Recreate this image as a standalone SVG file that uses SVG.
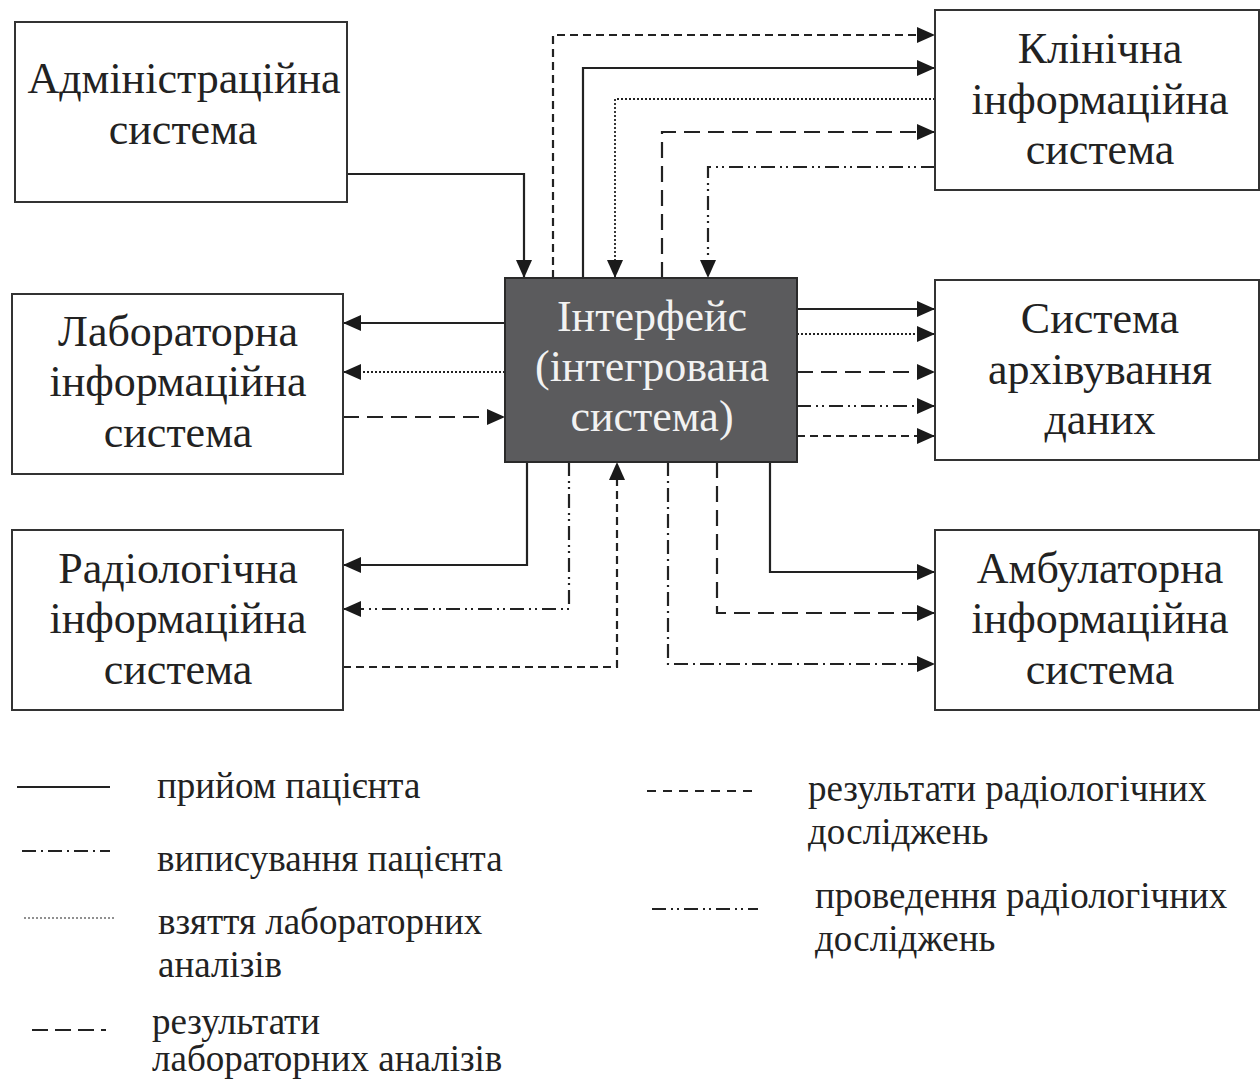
<svg xmlns="http://www.w3.org/2000/svg" width="1260" height="1081" viewBox="0 0 1260 1081">
<style>
.box{fill:#fff;stroke:#333;stroke-width:2}
.core{fill:#5b5b5d;stroke:#2a2a2a;stroke-width:2}
.t{font-family:"Liberation Serif","Times New Roman",serif;font-size:44px;fill:#222;text-anchor:middle}
.tw{fill:#f2f2f2}
.lg{font-family:"Liberation Serif","Times New Roman",serif;font-size:37px;fill:#222}
.c{fill:none;stroke:#222;stroke-width:2.2}
.dot{stroke-dasharray:2 2;stroke-width:1.8}
.sd{stroke-dasharray:8 5}
.ld{stroke-dasharray:16 8}
.dd{stroke-dasharray:14 5 2 5}
.ddd{stroke-dasharray:14 5 2 4 2 5}
.a{marker-end:url(#arr)}
</style>
<defs>
<marker id="arr" markerUnits="userSpaceOnUse" markerWidth="18" markerHeight="16" refX="18" refY="8" orient="auto">
<path d="M0,0 L18,8 L0,16 z" fill="#1a1a1a"/>
</marker>
</defs>
<rect width="1260" height="1081" fill="#fff"/>

<g id="connectors">
<path class="c a" d="M347,174 H524 V278"/>
<path class="c sd a" d="M553,278 V35 H935"/>
<path class="c a" d="M583,278 V68 H935"/>
<path class="c dot a" d="M935,99 H615 V278"/>
<path class="c ld a" d="M662,278 V132 H935"/>
<path class="c ddd a" d="M935,167 H708 V278"/>
<path class="c a" d="M505,323 H343"/>
<path class="c dot a" d="M505,372 H343"/>
<path class="c ld a" d="M343,417 H505"/>
<path class="c a" d="M797,309 H935"/>
<path class="c dot a" d="M797,334 H935"/>
<path class="c ld a" d="M797,372 H935"/>
<path class="c ddd a" d="M797,406 H935"/>
<path class="c sd a" d="M797,436 H935"/>
<path class="c a" d="M527,462 V565 H343"/>
<path class="c ddd a" d="M569,462 V609 H343"/>
<path class="c sd a" d="M343,667 H617 V462"/>
<path class="c a" d="M770,462 V572 H935"/>
<path class="c ld a" d="M717,462 V613 H935"/>
<path class="c dd a" d="M668,462 V664 H935"/>
</g>

<g id="admin">
<rect class="box" x="15" y="22" width="332" height="180"/>
<text class="t" x="184" y="93">Адміністраційна</text>
<text class="t" x="183" y="144">система</text>
</g>
<g id="clinical">
<rect class="box" x="935" y="10" width="324" height="180"/>
<text class="t" x="1100" y="63">Клінічна</text>
<text class="t" x="1100" y="114">інформаційна</text>
<text class="t" x="1100" y="164">система</text>
</g>
<g id="lab">
<rect class="box" x="12" y="294" width="331" height="180"/>
<text class="t" x="178" y="346">Лабораторна</text>
<text class="t" x="178" y="396">інформаційна</text>
<text class="t" x="178" y="447">система</text>
</g>
<g id="interface">
<rect class="core" x="505" y="278" width="292" height="184"/>
<text class="t tw" x="652" y="331">Інтерфейс</text>
<text class="t tw" x="652" y="381">(інтегрована</text>
<text class="t tw" x="652" y="431">система)</text>
</g>
<g id="archive">
<rect class="box" x="935" y="280" width="324" height="180"/>
<text class="t" x="1100" y="333">Система</text>
<text class="t" x="1100" y="384">архівування</text>
<text class="t" x="1100" y="434">даних</text>
</g>
<g id="radio">
<rect class="box" x="12" y="530" width="331" height="180"/>
<text class="t" x="178" y="583">Радіологічна</text>
<text class="t" x="178" y="633">інформаційна</text>
<text class="t" x="178" y="684">система</text>
</g>
<g id="ambulatory">
<rect class="box" x="935" y="530" width="324" height="180"/>
<text class="t" x="1100" y="583">Амбулаторна</text>
<text class="t" x="1100" y="633">інформаційна</text>
<text class="t" x="1100" y="684">система</text>
</g>

<g id="legend">
<line class="c" x1="17" y1="787" x2="110" y2="787"/>
<text class="lg" x="157" y="798">прийом пацієнта</text>
<line class="c dd" x1="22" y1="851" x2="110" y2="851"/>
<text class="lg" x="157" y="871">виписування пацієнта</text>
<line class="c dot" x1="24" y1="918" x2="115" y2="918" style="stroke-width:1.2"/>
<text class="lg" x="158" y="934">взяття лабораторних</text>
<text class="lg" x="158" y="977">аналізів</text>
<line class="c" x1="32" y1="1030" x2="115" y2="1030" style="stroke-dasharray:16 7 16 7 16 7 5"/>
<text class="lg" x="152" y="1034">результати</text>
<text class="lg" x="152" y="1071">лабораторних аналізів</text>
<line class="c" x1="647" y1="791" x2="755" y2="791" style="stroke-dasharray:9 7;stroke-width:1.8"/>
<text class="lg" x="808" y="801">результати радіологічних</text>
<text class="lg" x="808" y="844">досліджень</text>
<line class="c ddd" x1="652" y1="909" x2="758" y2="909"/>
<text class="lg" x="815" y="908">проведення радіологічних</text>
<text class="lg" x="815" y="951">досліджень</text>
</g>
</svg>
